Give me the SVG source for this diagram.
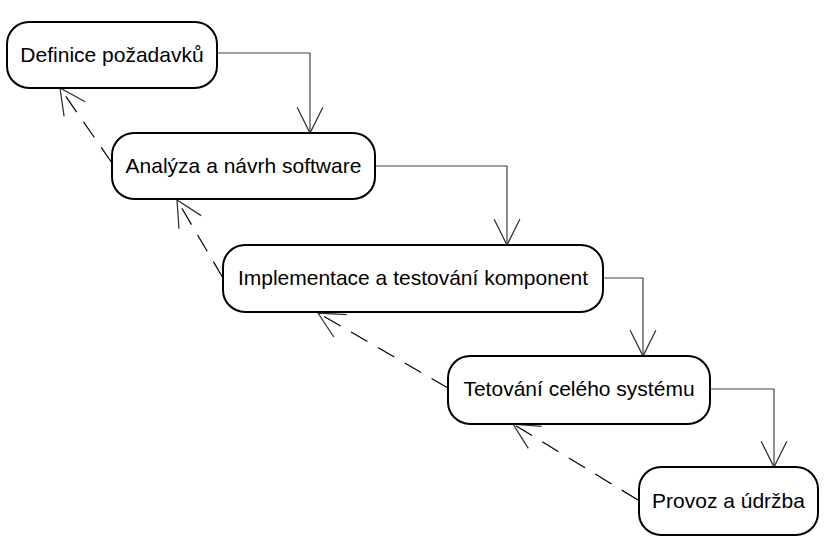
<svg xmlns="http://www.w3.org/2000/svg" width="836" height="542" viewBox="0 0 836 542">
<defs>
<style>
.box{fill:#fff;stroke:#000;stroke-width:2}
.lbl{font-family:"Liberation Sans",Arial,sans-serif;font-size:21px;fill:#000;text-anchor:middle}
.flow{fill:none;stroke:#444;stroke-width:1.2}
.back{fill:none;stroke:#000;stroke-width:1.2;stroke-dasharray:19 12}
</style>
<marker id="open" markerUnits="userSpaceOnUse" markerWidth="30" markerHeight="30" viewBox="-26 -14 28 28" refX="0" refY="0" orient="auto">
<path d="M-24,-12 L0,0 L-24,12" fill="none" stroke="#333" stroke-width="1.2"/>
</marker>
</defs>
<rect width="836" height="542" fill="#fff"/>
<g id="connectors">
<polyline class="flow" points="217,53 310,53 310,133" marker-end="url(#open)"/>
<polyline class="flow" points="375,166 507,166 507,245" marker-end="url(#open)"/>
<polyline class="flow" points="603,278 643,278 643,356" marker-end="url(#open)"/>
<polyline class="flow" points="710,389 774,389 774,467" marker-end="url(#open)"/>
<line class="back" x1="112" y1="163" x2="60" y2="88" marker-end="url(#open)"/>
<line class="back" x1="223" y1="278" x2="177" y2="200" marker-end="url(#open)"/>
<line class="back" x1="448" y1="388" x2="318" y2="313" marker-end="url(#open)"/>
<line class="back" x1="638" y1="500" x2="513" y2="424" marker-end="url(#open)"/>
</g>
<g id="n1"><rect class="box" x="7" y="22" width="210" height="66" rx="22"/><text class="lbl" x="112" y="62">Definice požadavků</text></g>
<g id="n2"><rect class="box" x="112" y="133" width="263" height="66" rx="22"/><text class="lbl" x="243.5" y="173">Analýza a návrh software</text></g>
<g id="n3"><rect class="box" x="223" y="245" width="380" height="67" rx="22"/><text class="lbl" x="413" y="285">Implementace a testování komponent</text></g>
<g id="n4"><rect class="box" x="448" y="356" width="262" height="68" rx="22"/><text class="lbl" x="579" y="396">Tetování celého systému</text></g>
<g id="n5"><rect class="box" x="639" y="467" width="179" height="68" rx="22"/><text class="lbl" x="728.5" y="508">Provoz a údržba</text></g>
</svg>
